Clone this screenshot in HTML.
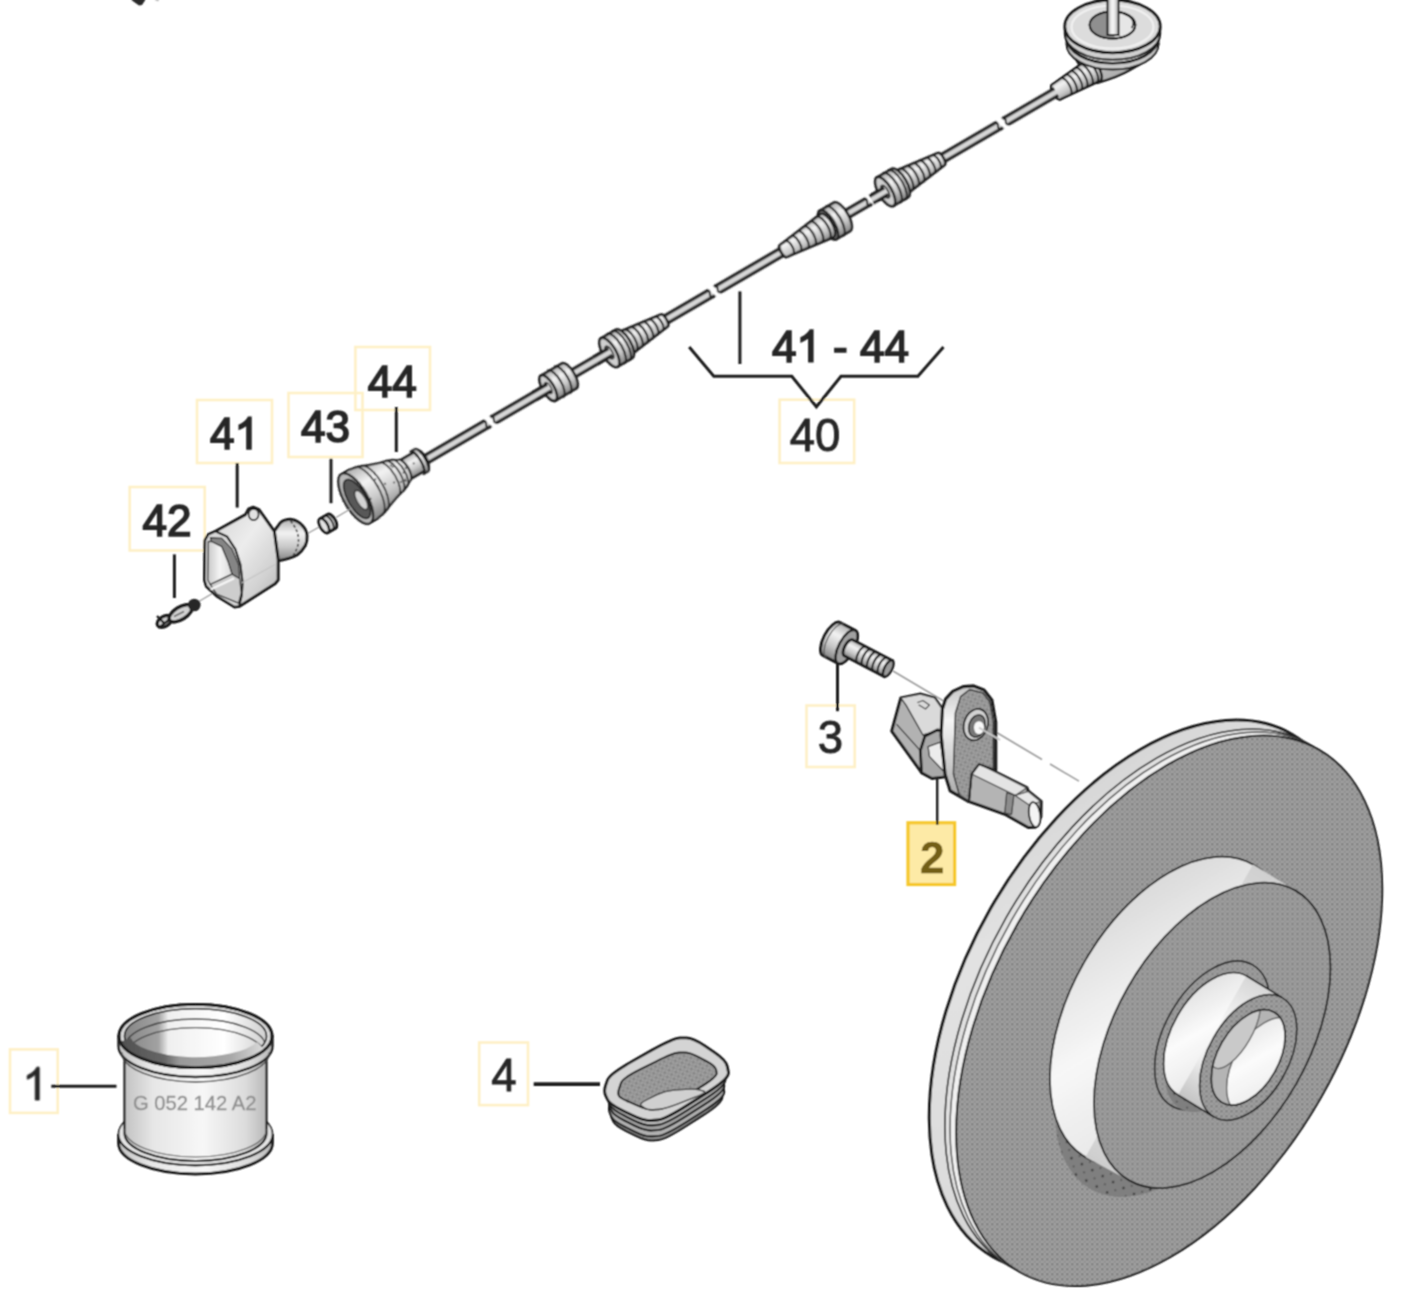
<!DOCTYPE html>
<html><head><meta charset="utf-8"><title>diagram</title>
<style>html,body{margin:0;padding:0;background:#fff}svg{display:block}text{font-family:"Liberation Sans",sans-serif}</style>
</head><body>
<svg width="1404" height="1308" viewBox="0 0 1404 1308">

<defs>
<filter id="bl" filterUnits="userSpaceOnUse" x="0" y="0" width="1404" height="1308"><feConvolveMatrix order="3" kernelMatrix="1 2 1 2 4 2 1 2 1" divisor="16" edgeMode="duplicate" preserveAlpha="false"/></filter>
<pattern id="dots" width="5" height="5" patternUnits="userSpaceOnUse" patternTransform="rotate(60.2)">
 <rect width="5" height="5" fill="#a1a1a1"/>
 <rect x="0" y="0" width="2.5" height="2.5" fill="#828282"/>
 <rect x="2.5" y="2.5" width="2.5" height="2.5" fill="#939393"/>
</pattern>
<pattern id="dotsd" width="12" height="12" patternUnits="userSpaceOnUse">
 <rect width="12" height="12" fill="#7f7f7f"/>
 <circle cx="3" cy="3" r="1.3" fill="#3a3a3a"/>
 <circle cx="9" cy="9" r="1.1" fill="#555"/>
</pattern>
<linearGradient id="hat" x1="0" y1="0" x2="1" y2="0">
 <stop offset="0" stop-color="#cfcfcf"/><stop offset="0.35" stop-color="#f4f4f4"/><stop offset="0.6" stop-color="#e2e2e2"/><stop offset="1" stop-color="#c4c4c4"/>
</linearGradient>
<linearGradient id="cyl" x1="0" y1="0" x2="0" y2="1">
 <stop offset="0" stop-color="#b0b0b0"/><stop offset="0.33" stop-color="#f2f2f2"/><stop offset="0.66" stop-color="#c8c8c8"/><stop offset="1" stop-color="#828282"/>
</linearGradient>
<linearGradient id="cylh" x1="0" y1="0" x2="1" y2="0">
 <stop offset="0" stop-color="#c9c9c9"/><stop offset="0.3" stop-color="#f0f0f0"/><stop offset="0.55" stop-color="#fafafa"/><stop offset="1" stop-color="#cdcdcd"/>
</linearGradient>
</defs>

<rect width="1404" height="1308" fill="#fff"/>
<g filter="url(#bl)">
<defs><linearGradient id="hubg" gradientUnits="userSpaceOnUse" x1="1085" y1="1158" x2="1254" y2="863"><stop offset="0" stop-color="#cdcdcd"/><stop offset="0.25" stop-color="#e9e9e9"/><stop offset="0.5" stop-color="#f7f7f7"/><stop offset="0.75" stop-color="#e3e3e3"/><stop offset="1" stop-color="#cfcfcf"/></linearGradient><linearGradient id="bossg" gradientUnits="userSpaceOnUse" x1="1174" y1="1092" x2="1244" y2="970"><stop offset="0" stop-color="#c4c4c4"/><stop offset="0.3" stop-color="#eeeeee"/><stop offset="0.55" stop-color="#fbfbfb"/><stop offset="1" stop-color="#d4d4d4"/></linearGradient><linearGradient id="rimg" gradientUnits="userSpaceOnUse" x1="1020" y1="1271" x2="1318" y2="750"><stop offset="0" stop-color="#c2c2c2"/><stop offset="0.4" stop-color="#dcdcdc"/><stop offset="0.7" stop-color="#e2e2e2"/><stop offset="1" stop-color="#cccccc"/></linearGradient></defs>
<ellipse cx="1142.3" cy="995.4" rx="301.0" ry="174.8" transform="rotate(-60.2 1142.3 995.4)" fill="url(#rimg)" stroke="#1e1e1e" stroke-width="3" />
<ellipse cx="1157.9" cy="1004.3" rx="301.0" ry="174.8" transform="rotate(-60.2 1157.9 1004.3)" fill="#e0e0e0" stroke="#1e1e1e" stroke-width="1.6" />
<ellipse cx="1163.1" cy="1007.3" rx="301.0" ry="174.8" transform="rotate(-60.2 1163.1 1007.3)" fill="#f0f0f0" stroke="#444" stroke-width="1.4" />
<ellipse cx="1169.2" cy="1010.8" rx="301.0" ry="174.8" transform="rotate(-60.2 1169.2 1010.8)" fill="url(#dots)" stroke="#1e1e1e" stroke-width="2" />
<ellipse cx="1174.2" cy="1042.8" rx="168.6" ry="97.9" transform="rotate(-60.2 1174.2 1042.8)" fill="url(#dotsd)" stroke="none" stroke-width="0" />
<ellipse cx="1169.2" cy="1010.8" rx="168.6" ry="97.9" transform="rotate(-60.2 1169.2 1010.8)" fill="url(#hubg)" stroke="#1e1e1e" stroke-width="1.8" />
<polygon points="1253.0,864.5 1085.4,1157.1 1129.1,1180.4 1295.2,890.4" fill="url(#hubg)" stroke="none"/>
<ellipse cx="1212.2" cy="1035.4" rx="167.1" ry="97.0" transform="rotate(-60.2 1212.2 1035.4)" fill="url(#dots)" stroke="#1e1e1e" stroke-width="1.8" />
<ellipse cx="1212.2" cy="1035.4" rx="81.3" ry="47.2" transform="rotate(-60.2 1212.2 1035.4)" fill="url(#dots)" stroke="#1e1e1e" stroke-width="1.6" />
<ellipse cx="1215.2" cy="1047.4" rx="70.7" ry="41.1" transform="rotate(-60.2 1215.2 1047.4)" fill="url(#dotsd)" stroke="none" stroke-width="0" />
<ellipse cx="1212.2" cy="1035.4" rx="68.6" ry="39.9" transform="rotate(-60.2 1212.2 1035.4)" fill="url(#bossg)" stroke="#1e1e1e" stroke-width="1.6" />
<polygon points="1246.3,975.8 1178.0,1095.0 1214.0,1117.0 1282.3,997.8" fill="url(#bossg)" stroke="none"/>
<line x1="1178.0" y1="1095.0" x2="1214.0" y2="1117.0" stroke="#1e1e1e" stroke-width="1.6"/>
<line x1="1246.3" y1="975.8" x2="1282.3" y2="997.8" stroke="#1e1e1e" stroke-width="1.6"/>
<ellipse cx="1248.2" cy="1057.4" rx="68.6" ry="39.9" transform="rotate(-60.2 1248.2 1057.4)" fill="url(#dots)" stroke="#1e1e1e" stroke-width="1.6" />
<clipPath id="holec"><ellipse cx="1248.2" cy="1057.4" rx="52.1" ry="30.2" transform="rotate(-60.2 1248.2 1057.4)"/></clipPath>
<ellipse cx="1248.2" cy="1057.4" rx="52.1" ry="30.2" transform="rotate(-60.2 1248.2 1057.4)" fill="url(#bossg)" stroke="#1e1e1e" stroke-width="1.6" />
<g clip-path="url(#holec)">
<ellipse cx="1248.2" cy="1057.4" rx="52.1" ry="30.2" transform="rotate(-60.2 1248.2 1057.4)" fill="#b4b4b4" stroke="none" stroke-width="0" />
<ellipse cx="1264.2" cy="1066.4" rx="53.1" ry="30.8" transform="rotate(-60.2 1264.2 1066.4)" fill="url(#bossg)" stroke="#555" stroke-width="1.3" />
<ellipse cx="1235.2" cy="1031.4" rx="41.7" ry="16.6" transform="rotate(-60.2 1235.2 1031.4)" fill="#c9c9c9" stroke="#555" stroke-width="1.2" />
</g>
<ellipse cx="1248.2" cy="1057.4" rx="52.1" ry="30.2" transform="rotate(-60.2 1248.2 1057.4)" fill="none" stroke="#1e1e1e" stroke-width="1.6" /><rect x="129.7" y="487" width="75" height="63.5" fill="none" stroke="#fef0c6" stroke-width="2.6"/><text x="142.54" y="535.5" font-size="44" fill="#262626" stroke="#262626" stroke-width="1.7">4</text><text x="167.00" y="535.5" font-size="44" fill="#262626" stroke="#262626" stroke-width="1.7">2</text>
<rect x="197" y="400" width="75" height="63" fill="none" stroke="#fef0c6" stroke-width="2.6"/><text x="210.04" y="449" font-size="44" fill="#262626" stroke="#262626" stroke-width="1.7">4</text><path transform="translate(234.50 449) scale(44)" d="M0.3726,0 L0.2847,0 L0.2847,-0.56 Q0.2529,-0.5298 0.2014,-0.4995 Q0.15,-0.469 0.1089,-0.454 L0.1089,-0.539 Q0.1826,-0.5737 0.2378,-0.623 Q0.293,-0.6724 0.316,-0.71875 L0.3726,-0.71875 Z" fill="#262626" stroke="#262626" stroke-width="0.0386"/>
<rect x="288.5" y="393" width="74" height="64" fill="none" stroke="#fef0c6" stroke-width="2.6"/><text x="301.04" y="442" font-size="44" fill="#262626" stroke="#262626" stroke-width="1.7">4</text><text x="325.50" y="442" font-size="44" fill="#262626" stroke="#262626" stroke-width="1.7">3</text>
<rect x="355.4" y="347" width="74.6" height="63" fill="none" stroke="#fef0c6" stroke-width="2.6"/><text x="367.84" y="396.6" font-size="44" fill="#262626" stroke="#262626" stroke-width="1.7">4</text><text x="392.30" y="396.6" font-size="44" fill="#262626" stroke="#262626" stroke-width="1.7">4</text>
<rect x="779.6" y="399.7" width="74.6" height="63.3" fill="none" stroke="#fef0c6" stroke-width="2.6"/><text x="789.70" y="450.6" font-size="45.5" fill="#262626" stroke="#262626" stroke-width="0.85">4</text><text x="815.00" y="450.6" font-size="45.5" fill="#262626" stroke="#262626" stroke-width="0.85">0</text>
<rect x="806.5" y="705.5" width="48.2" height="61.5" fill="none" stroke="#fef0c6" stroke-width="2.6"/><text x="817.75" y="752.8" font-size="45.5" fill="#262626" stroke="#262626" stroke-width="0.85">3</text>
<rect x="908" y="822.8" width="46.6" height="61.7" fill="#fdeaa6" stroke="#f6c72c" stroke-width="3.2"/><text x="932.2" y="873" font-size="44" font-weight="bold" fill="#735e12" stroke="#735e12" stroke-width="0.4" text-anchor="middle">2</text>
<rect x="10" y="1049.4" width="47.7" height="63.5" fill="none" stroke="#fef0c6" stroke-width="2.6"/><path transform="translate(22.35 1100) scale(45.5)" d="M0.3726,0 L0.2847,0 L0.2847,-0.56 Q0.2529,-0.5298 0.2014,-0.4995 Q0.15,-0.469 0.1089,-0.454 L0.1089,-0.539 Q0.1826,-0.5737 0.2378,-0.623 Q0.293,-0.6724 0.316,-0.71875 L0.3726,-0.71875 Z" fill="#262626" stroke="#262626" stroke-width="0.0187"/>
<rect x="479.2" y="1042.5" width="48.8" height="62.6" fill="none" stroke="#fef0c6" stroke-width="2.6"/><text x="491.15" y="1091.3" font-size="45.5" fill="#262626" stroke="#262626" stroke-width="0.85">4</text>
<text x="771.91" y="361.6" font-size="44" fill="#262626" stroke="#262626" stroke-width="1.7">4</text><path transform="translate(796.38 361.6) scale(44)" d="M0.3726,0 L0.2847,0 L0.2847,-0.56 Q0.2529,-0.5298 0.2014,-0.4995 Q0.15,-0.469 0.1089,-0.454 L0.1089,-0.539 Q0.1826,-0.5737 0.2378,-0.623 Q0.293,-0.6724 0.316,-0.71875 L0.3726,-0.71875 Z" fill="#262626" stroke="#262626" stroke-width="0.0386"/><text x="833.07" y="361.6" font-size="44" fill="#262626" stroke="#262626" stroke-width="1.7">-</text><text x="859.96" y="361.6" font-size="44" fill="#262626" stroke="#262626" stroke-width="1.7">4</text><text x="884.42" y="361.6" font-size="44" fill="#262626" stroke="#262626" stroke-width="1.7">4</text>
<polyline points="689.2,347 713.8,376.2 791.8,376.2 816.4,406.8 841,376.2 917.9,376.2 943.5,347" fill="none" stroke="#1e1e1e" stroke-width="3" stroke-linejoin="miter"/>
<line x1="739.9" y1="291.4" x2="739.9" y2="364" stroke="#1e1e1e" stroke-width="3"/>
<line x1="174.4" y1="554.4" x2="174.4" y2="598" stroke="#1e1e1e" stroke-width="3"/>
<line x1="237.2" y1="463" x2="237.2" y2="507.6" stroke="#1e1e1e" stroke-width="3"/>
<line x1="331" y1="458.7" x2="331" y2="503.2" stroke="#1e1e1e" stroke-width="3"/>
<line x1="396.3" y1="407" x2="396.3" y2="452" stroke="#1e1e1e" stroke-width="3"/>
<line x1="837.5" y1="660.8" x2="837.5" y2="711.2" stroke="#1e1e1e" stroke-width="3"/>
<line x1="937.2" y1="776.6" x2="937.2" y2="824.8" stroke="#1e1e1e" stroke-width="2.4"/>
<line x1="51.3" y1="1086.2" x2="116.5" y2="1086.2" stroke="#1e1e1e" stroke-width="3"/>
<line x1="533.7" y1="1084.1" x2="600" y2="1084.1" stroke="#1e1e1e" stroke-width="3.6"/><linearGradient id="elb" x1="0" y1="0" x2="1" y2="1"><stop offset="0" stop-color="#d6d6d6"/><stop offset="0.6" stop-color="#b4b4b4"/><stop offset="1" stop-color="#8e8e8e"/></linearGradient>
<path d="M1068,46 L1080,66 L1097,83 Q1118,77 1130,70 Q1150,60 1158.5,44 Z" fill="url(#elb)" stroke="#1e1e1e" stroke-width="2.4" stroke-linejoin="round"/>
<g transform="translate(425.6 459.6) rotate(-30.24)">
<path d="M730.0,-8.5 L774.0,-12.5 A5.0,12.5 0 0 1 774.0,12.5 L730.0,8.5 A3.4,8.5 0 0 1 730.0,-8.5 Z" fill="url(#cyl)" stroke="#1e1e1e" stroke-width="2.4" stroke-linejoin="round"/>
<path d="M741.0,-9.5 A3.8,9.5 0 0 1 741.0,9.5" fill="none" stroke="#1e1e1e" stroke-width="1.9"/>
<path d="M746.8,-10.0 A4.0,10.0 0 0 1 746.8,10.0" fill="none" stroke="#1e1e1e" stroke-width="1.9"/>
<path d="M752.6,-10.6 A4.2,10.6 0 0 1 752.6,10.6" fill="none" stroke="#1e1e1e" stroke-width="1.9"/>
<path d="M758.4,-11.1 A4.4,11.1 0 0 1 758.4,11.1" fill="none" stroke="#1e1e1e" stroke-width="1.9"/>
<path d="M764.2,-11.6 A4.6,11.6 0 0 1 764.2,11.6" fill="none" stroke="#1e1e1e" stroke-width="1.9"/>
<path d="M770.0,-12.1 A4.9,12.1 0 0 1 770.0,12.1" fill="none" stroke="#1e1e1e" stroke-width="1.9"/>
<path d="M730,-8.5 A3.4,8.5 0 0 0 730,8.5" fill="#cfcfcf" stroke="#1e1e1e" stroke-width="2.2"/>
</g>
<path d="M1066.5,38 A46,25.5 0 0 0 1158.5,38 L1158.5,44 A46,25.5 0 0 1 1066.5,44 Z" fill="#c9c9c9" stroke="#1e1e1e" stroke-width="2"/>
<path d="M1067.5,33 A45,25 0 0 0 1157.5,33 L1157.5,38 A45,25 0 0 1 1067.5,38 Z" fill="#e2e2e2" stroke="#1e1e1e" stroke-width="2"/>
<path d="M1064.8,26.4 A47.7,26.4 0 0 0 1160.2,26.4 L1160.2,33.4 A47.7,26.4 0 0 1 1064.8,33.4 Z" fill="#cfcfcf" stroke="#1e1e1e" stroke-width="2"/>
<ellipse cx="1112.5" cy="26.4" rx="47.7" ry="26.4" fill="#dcdcdc" stroke="#1e1e1e" stroke-width="2.8"/>
<ellipse cx="1112.5" cy="27" rx="41" ry="21.5" fill="none" stroke="#f0f0f0" stroke-width="2.2"/>
<ellipse cx="1112.5" cy="25" rx="22.8" ry="13.5" fill="#e6e6e6" stroke="#1e1e1e" stroke-width="2"/>
<path d="M1089.7,25 A22.8,13.5 0 0 1 1114.5,11.6 L1114.5,38.4 A22.8,13.5 0 0 1 1089.7,25 Z" fill="#8f8f8f"/>
<path d="M1124.5,14 A19,11 0 0 1 1131.5,28" fill="none" stroke="#1e1e1e" stroke-width="1.6"/>
<ellipse cx="1112.5" cy="25" rx="22.8" ry="13.5" fill="none" stroke="#1e1e1e" stroke-width="2"/>
<rect x="1107.5" y="-3" width="11" height="38" fill="#d0d0d0" stroke="#1e1e1e" stroke-width="2"/>
<rect x="1110.8" y="-3" width="4" height="37" fill="#f1f1f1"/><g transform="translate(425.6 459.6) rotate(-30.24)">
<rect x="-2" y="-4" width="732" height="8" fill="#d6d6d6"/>
<line x1="-2" y1="-4" x2="730" y2="-4" stroke="#1e1e1e" stroke-width="3.1"/>
<line x1="-2" y1="4" x2="730" y2="4" stroke="#1e1e1e" stroke-width="3.1"/>
<polygon points="70.0,-8 76.0,-8 81.0,8 75.0,8" fill="#fff"/>
<path d="M69.0,-5 q3,2 1,5 t2,5" fill="none" stroke="#1e1e1e" stroke-width="1.8"/>
<path d="M78.0,-5 q3,2 1,5 t2,5" fill="none" stroke="#1e1e1e" stroke-width="1.8"/>
<polygon points="329.0,-8 335.0,-8 340.0,8 334.0,8" fill="#fff"/>
<path d="M328.0,-5 q3,2 1,5 t2,5" fill="none" stroke="#1e1e1e" stroke-width="1.8"/>
<path d="M337.0,-5 q3,2 1,5 t2,5" fill="none" stroke="#1e1e1e" stroke-width="1.8"/>
<polygon points="511.0,-8 517.0,-8 522.0,8 516.0,8" fill="#fff"/>
<path d="M510.0,-5 q3,2 1,5 t2,5" fill="none" stroke="#1e1e1e" stroke-width="1.8"/>
<path d="M519.0,-5 q3,2 1,5 t2,5" fill="none" stroke="#1e1e1e" stroke-width="1.8"/>
<polygon points="662.5,-8 668.5,-8 673.5,8 667.5,8" fill="#fff"/>
<path d="M661.5,-5 q3,2 1,5 t2,5" fill="none" stroke="#1e1e1e" stroke-width="1.8"/>
<path d="M670.5,-5 q3,2 1,5 t2,5" fill="none" stroke="#1e1e1e" stroke-width="1.8"/>
<path d="M142.0,-14.5 L166.0,-14.5 A5.8,14.5 0 0 1 166.0,14.5 L142.0,14.5 A5.8,14.5 0 0 1 142.0,-14.5 Z" fill="url(#cyl)" stroke="#1e1e1e" stroke-width="2.4" stroke-linejoin="round"/>
<path d="M150.0,-15.5 A6.2,15.5 0 0 1 150.0,15.5" fill="none" stroke="#1e1e1e" stroke-width="1.9"/>
<path d="M158.0,-15.5 A6.2,15.5 0 0 1 158.0,15.5" fill="none" stroke="#1e1e1e" stroke-width="1.9"/>
<ellipse cx="142.0" cy="0.0" rx="5.8" ry="14.5" fill="#cfcfcf" stroke="#1e1e1e" stroke-width="2.4"/>
<ellipse cx="142.0" cy="0.0" rx="2.4" ry="6.0" fill="#8a8a8a" stroke="#1e1e1e" stroke-width="1.4"/>
<path d="M230.7,-13.0 L276.0,-7.0 A2.8,7.0 0 0 1 276.0,7.0 L230.7,13.0 A5.2,13.0 0 0 1 230.7,-13.0 Z" fill="url(#cyl)" stroke="#1e1e1e" stroke-width="2.4" stroke-linejoin="round"/>
<path d="M236.7,-12.2 A4.9,12.2 0 0 1 236.7,12.2" fill="none" stroke="#1e1e1e" stroke-width="1.9"/>
<path d="M243.4,-11.3 A4.5,11.3 0 0 1 243.4,11.3" fill="none" stroke="#1e1e1e" stroke-width="1.9"/>
<path d="M250.0,-10.4 A4.2,10.4 0 0 1 250.0,10.4" fill="none" stroke="#1e1e1e" stroke-width="1.9"/>
<path d="M256.7,-9.6 A3.8,9.6 0 0 1 256.7,9.6" fill="none" stroke="#1e1e1e" stroke-width="1.9"/>
<path d="M263.3,-8.7 A3.5,8.7 0 0 1 263.3,8.7" fill="none" stroke="#1e1e1e" stroke-width="1.9"/>
<path d="M270.0,-7.8 A3.1,7.8 0 0 1 270.0,7.8" fill="none" stroke="#1e1e1e" stroke-width="1.9"/>
<path d="M212.7,-16.5 L229.7,-16.5 A6.6,16.5 0 0 1 229.7,16.5 L212.7,16.5 A6.6,16.5 0 0 1 212.7,-16.5 Z" fill="url(#cyl)" stroke="#1e1e1e" stroke-width="2.4" stroke-linejoin="round"/>
<path d="M219.7,-17.3 A6.9,17.3 0 0 1 219.7,17.3" fill="none" stroke="#1e1e1e" stroke-width="1.9"/>
<path d="M225.7,-17.0 A6.8,17.0 0 0 1 225.7,17.0" fill="none" stroke="#1e1e1e" stroke-width="1.9"/>
<ellipse cx="212.7" cy="0.0" rx="6.6" ry="16.5" fill="#cfcfcf" stroke="#1e1e1e" stroke-width="2.4"/>
<ellipse cx="212.7" cy="0.0" rx="2.8" ry="7.0" fill="#8a8a8a" stroke="#1e1e1e" stroke-width="1.4"/>
<path d="M465.9,-16.5 L481.9,-16.5 A6.6,16.5 0 0 1 481.9,16.5 L465.9,16.5 A6.6,16.5 0 0 1 465.9,-16.5 Z" fill="url(#cyl)" stroke="#1e1e1e" stroke-width="2.4" stroke-linejoin="round"/>
<path d="M472.9,-17.3 A6.9,17.3 0 0 1 472.9,17.3" fill="none" stroke="#1e1e1e" stroke-width="1.9"/>
<ellipse cx="465.9" cy="0.0" rx="6.6" ry="16.5" fill="#c4c4c4" stroke="#1e1e1e" stroke-width="2.4"/>
<path d="M414.4,-7.0 L464.9,-13.5 A5.4,13.5 0 0 1 464.9,13.5 L414.4,7.0 A2.8,7.0 0 0 1 414.4,-7.0 Z" fill="url(#cyl)" stroke="#1e1e1e" stroke-width="2.4" stroke-linejoin="round"/>
<path d="M421.0,-7.8 A3.1,7.8 0 0 1 421.0,7.8" fill="none" stroke="#1e1e1e" stroke-width="1.9"/>
<path d="M428.8,-8.9 A3.5,8.9 0 0 1 428.8,8.9" fill="none" stroke="#1e1e1e" stroke-width="1.9"/>
<path d="M436.6,-9.9 A3.9,9.9 0 0 1 436.6,9.9" fill="none" stroke="#1e1e1e" stroke-width="1.9"/>
<path d="M444.3,-10.9 A4.3,10.9 0 0 1 444.3,10.9" fill="none" stroke="#1e1e1e" stroke-width="1.9"/>
<path d="M452.1,-11.9 A4.7,11.9 0 0 1 452.1,11.9" fill="none" stroke="#1e1e1e" stroke-width="1.9"/>
<path d="M459.9,-12.9 A5.1,12.9 0 0 1 459.9,12.9" fill="none" stroke="#1e1e1e" stroke-width="1.9"/>
<path d="M414.4,-7 A2.8,7 0 0 0 414.4,7" fill="#cfcfcf" stroke="#1e1e1e" stroke-width="2.2"/>
<path d="M550.0,-13.0 L596.6,-7.0 A2.8,7.0 0 0 1 596.6,7.0 L550.0,13.0 A5.2,13.0 0 0 1 550.0,-13.0 Z" fill="url(#cyl)" stroke="#1e1e1e" stroke-width="2.4" stroke-linejoin="round"/>
<path d="M556.0,-12.2 A4.9,12.2 0 0 1 556.0,12.2" fill="none" stroke="#1e1e1e" stroke-width="1.9"/>
<path d="M563.0,-11.3 A4.5,11.3 0 0 1 563.0,11.3" fill="none" stroke="#1e1e1e" stroke-width="1.9"/>
<path d="M570.0,-10.4 A4.2,10.4 0 0 1 570.0,10.4" fill="none" stroke="#1e1e1e" stroke-width="1.9"/>
<path d="M577.0,-9.5 A3.8,9.5 0 0 1 577.0,9.5" fill="none" stroke="#1e1e1e" stroke-width="1.9"/>
<path d="M584.0,-8.6 A3.4,8.6 0 0 1 584.0,8.6" fill="none" stroke="#1e1e1e" stroke-width="1.9"/>
<path d="M591.0,-7.7 A3.1,7.7 0 0 1 591.0,7.7" fill="none" stroke="#1e1e1e" stroke-width="1.9"/>
<path d="M532.0,-16.5 L549.0,-16.5 A6.6,16.5 0 0 1 549.0,16.5 L532.0,16.5 A6.6,16.5 0 0 1 532.0,-16.5 Z" fill="url(#cyl)" stroke="#1e1e1e" stroke-width="2.4" stroke-linejoin="round"/>
<path d="M539.0,-17.3 A6.9,17.3 0 0 1 539.0,17.3" fill="none" stroke="#1e1e1e" stroke-width="1.9"/>
<path d="M545.0,-17.0 A6.8,17.0 0 0 1 545.0,17.0" fill="none" stroke="#1e1e1e" stroke-width="1.9"/>
<ellipse cx="532.0" cy="0.0" rx="6.6" ry="16.5" fill="#cfcfcf" stroke="#1e1e1e" stroke-width="2.4"/>
<ellipse cx="532.0" cy="0.0" rx="2.8" ry="7.0" fill="#8a8a8a" stroke="#1e1e1e" stroke-width="1.4"/>
<rect x="126" y="-4" width="18" height="8" fill="#d6d6d6"/>
<line x1="126" y1="-4" x2="143" y2="-4" stroke="#1e1e1e" stroke-width="3.1"/>
<line x1="126" y1="4" x2="143.5" y2="4" stroke="#1e1e1e" stroke-width="3.1"/>
<rect x="196.7" y="-4" width="18" height="8" fill="#d6d6d6"/>
<line x1="196.7" y1="-4" x2="213.7" y2="-4" stroke="#1e1e1e" stroke-width="3.1"/>
<line x1="196.7" y1="4" x2="214.2" y2="4" stroke="#1e1e1e" stroke-width="3.1"/>
<rect x="516" y="-4" width="18" height="8" fill="#d6d6d6"/>
<line x1="516" y1="-4" x2="533" y2="-4" stroke="#1e1e1e" stroke-width="3.1"/>
<line x1="516" y1="4" x2="533.5" y2="4" stroke="#1e1e1e" stroke-width="3.1"/>
<path d="M-24.0,-12.3 L-3.0,-12.3 A4.3,10.8 0 0 1 -3.0,9.3 L-24.0,9.3 A4.3,10.8 0 0 1 -24.0,-12.3 Z" fill="url(#cyl)" stroke="#1e1e1e" stroke-width="2.4" stroke-linejoin="round"/>
<path d="M-9,-14.5 L-4,-14.5 A4.2,13 0 0 1 -4,11.5 L-9,11.5 A4.2,13 0 0 0 -9,-14.5 Z" fill="url(#cyl)" stroke="#1e1e1e" stroke-width="2.2" stroke-linejoin="round"/>
<path d="M-9,-14.5 A4.2,13 0 0 1 -9,11.5" fill="none" stroke="#1e1e1e" stroke-width="1.4"/>
<path d="M-80,-30.0 L-72,-30.0 L-62,-28.0 L-52,-24.0 L-42,-20.5 L-34,-18.5 L-28,-16.0 L-24,-13.5 A4.8,12 0 0 1 -24,10.5 L-24,10.5 L-28,13.0 L-34,15.5 L-42,17.5 L-52,21.0 L-62,25.0 L-72,27.0 L-80,27.0 A11.4,28.5 0 0 1 -80,-30.0 Z" fill="url(#cyl)" stroke="#1e1e1e" stroke-width="2" stroke-linejoin="round"/>
<path d="M-66,-29.1 A11.0,27.6 0 0 1 -66,26.1" fill="none" stroke="#1e1e1e" stroke-width="1.4"/>
<path d="M-60,-27.3 A10.3,25.8 0 0 1 -60,24.3" fill="none" stroke="#1e1e1e" stroke-width="1.4"/>
<path d="M-42,-20.5 A7.6,19 0 0 1 -42,17.5" fill="none" stroke="#1e1e1e" stroke-width="1.4"/>
<path d="M-36,-19.0 A7.0,17.5 0 0 1 -36,16.0" fill="none" stroke="#1e1e1e" stroke-width="1.4"/>
<path d="M-30,-16.8 A6.1,15.3 0 0 1 -30,13.8" fill="none" stroke="#1e1e1e" stroke-width="1.4"/>
<ellipse cx="-80" cy="-1.5" rx="11.4" ry="28.5" fill="#b9b9b9" stroke="#1e1e1e" stroke-width="2.2"/>
<ellipse cx="-79" cy="-0.5" rx="8.8" ry="22" fill="#585858" stroke="#1e1e1e" stroke-width="1.6"/>
<ellipse cx="-76" cy="2.5" rx="4.4" ry="11" fill="#d4d4d4" stroke="#333" stroke-width="1.3"/>
<circle cx="-54.7" cy="-0.9" r="0.9" fill="#333"/>
<circle cx="-47.3" cy="0.5" r="0.9" fill="#333"/>
<circle cx="-33.0" cy="-12.4" r="0.9" fill="#333"/>
<circle cx="-67.3" cy="6.1" r="0.9" fill="#333"/>
<circle cx="-53.5" cy="-8.4" r="0.9" fill="#333"/>
<circle cx="-12.2" cy="-2.7" r="0.9" fill="#333"/>
<circle cx="-21.2" cy="-2.6" r="0.9" fill="#333"/>
<circle cx="-32.2" cy="-10.4" r="0.9" fill="#333"/>
<circle cx="-32.4" cy="6.8" r="0.9" fill="#333"/>
<circle cx="-38.7" cy="3.8" r="0.9" fill="#333"/>
<circle cx="-30.4" cy="-12.5" r="0.9" fill="#333"/>
<circle cx="-25.5" cy="0.2" r="0.9" fill="#333"/>
<circle cx="-51.1" cy="-13.3" r="0.9" fill="#333"/>
<circle cx="-19.5" cy="-2.7" r="0.9" fill="#333"/>
<circle cx="-27.7" cy="7.1" r="0.9" fill="#333"/>
<circle cx="-28.0" cy="8.1" r="0.9" fill="#333"/>
</g><line x1="198" y1="602" x2="214" y2="592.5" stroke="#9c9c9c" stroke-width="1.4"/>
<line x1="305" y1="535" x2="320" y2="526.5" stroke="#9c9c9c" stroke-width="1.4"/>
<line x1="336" y1="517.5" x2="352" y2="508" stroke="#9c9c9c" stroke-width="1.4"/>
<path d="M274,531.5 L280.3,522.8 Q285,519 291.7,519.4 Q298,520.5 301.9,525.1 Q306.6,530 307,535.3 Q307.4,541 305.3,545.6 Q302,551.5 297.4,554.7 Q290,559 277,561 Z" fill="url(#cyl)" stroke="#1e1e1e" stroke-width="3" stroke-linejoin="round"/>
<path d="M290.5,521 Q299,531 298.5,541 Q298,549 292.5,556.5" fill="none" stroke="#3a3a3a" stroke-width="1.5" stroke-dasharray="3 2"/>
<linearGradient id="c41" x1="0" y1="0" x2="1" y2="1"><stop offset="0" stop-color="#cfcfcf"/><stop offset="0.45" stop-color="#ececec"/><stop offset="0.75" stop-color="#d2d2d2"/><stop offset="1" stop-color="#b2b2b2"/></linearGradient>
<polygon points="205.1,540.3 208.3,534.5 215.4,531.3 245.5,514.6 248.7,508.8 253.2,507.2 259.0,509.7 274.4,531.3 278.2,559.5 278.2,580.0 275.0,583.8 239.7,606.3 234.6,606.9 216.7,596.0 206.4,586.4 204.5,580.0" fill="url(#c41)" stroke="#1e1e1e" stroke-width="3" stroke-linejoin="round" />
<ellipse cx="253.6" cy="514.5" rx="5" ry="5.6" fill="#e2e2e2" stroke="#1e1e1e" stroke-width="1.6"/>
<polygon points="205.1,540.3 208.3,534.5 215.4,531.3 226.9,536.4 235.3,549.2 240.4,564.6 242.6,582.6 241.7,595.4 239.1,606.3 234.6,606.9 216.7,596.0 206.4,586.4 204.5,580.0" fill="#d8d8d8" stroke="#1e1e1e" stroke-width="2.2" stroke-linejoin="round" />
<polygon points="210.3,537.7 221.8,538.3 232.1,549.2 238.5,564.6 239.7,578.7 232.1,574.2 228.2,562.1 221.8,546.7 211.5,541.5" fill="#858585" stroke="#333" stroke-width="1.2" stroke-linejoin="round" />
<linearGradient id="c41i" x1="0" y1="0" x2="1" y2="0"><stop offset="0" stop-color="#c8c8c8"/><stop offset="0.5" stop-color="#f4f4f4"/><stop offset="1" stop-color="#dadada"/></linearGradient>
<polygon points="208.3,541.5 211.5,541.5 221.8,546.7 228.2,562.1 232.1,574.2 210.3,584.5 207.7,580.0" fill="url(#c41i)" stroke="#333" stroke-width="1.3" stroke-linejoin="round" />
<polygon points="210.3,584.5 232.1,574.2 239.7,578.7 241.3,592.8 238.5,603.1 216.7,594.1" fill="#cdcdcd" stroke="#333" stroke-width="1.3" stroke-linejoin="round" />
<polyline points="211.5,589.0 233.3,578.7" fill="none" stroke="#f6f6f6" stroke-width="2.2" stroke-linejoin="round" stroke-linecap="round"/>
<polyline points="242.6,582.6 275.0,564.6" fill="none" stroke="#c4c4c4" stroke-width="1.2" stroke-linejoin="round" stroke-linecap="round"/>
<ellipse cx="164.5" cy="621.3" rx="8" ry="5" transform="rotate(-32 164.5 621.3)" fill="#cfcfcf" stroke="#1e1e1e" stroke-width="3.2"/>
<path d="M157,616 L165,624 M160,627 L170,619" stroke="#1e1e1e" stroke-width="2.4" fill="none"/>
<ellipse cx="180.6" cy="613.3" rx="13" ry="6.2" transform="rotate(-32 180.6 613.3)" fill="#d2d2d2" stroke="#1e1e1e" stroke-width="3.4"/>
<path d="M174,616.5 L184,611.5" stroke="#666" stroke-width="1.4" fill="none"/>
<circle cx="194.3" cy="605" r="6.3" fill="#262626"/>
<g transform="translate(327.4 523.7) rotate(-30.24)">
<path d="M-4,-8 L5,-8 A3.6,8 0 0 1 5,8 L-4,8 A3.6,8 0 0 1 -4,-8 Z" fill="#cfcfcf" stroke="#1e1e1e" stroke-width="3"/>
<ellipse cx="-4" cy="0" rx="3.8" ry="8" fill="#e4e4e4" stroke="#1e1e1e" stroke-width="2.6"/>
<path d="M1.5,-8 A3.6,8 0 0 1 1.5,8" fill="none" stroke="#1e1e1e" stroke-width="1.8"/>
</g><path d="M893,671 L968,715.5 M984,725 L1042,759.5 M1050,764 L1079,781.2" stroke="#9c9c9c" stroke-width="1.5" fill="none"/>
<g transform="translate(831.5 639) rotate(27.5)">
<path d="M0,-18.6 L17,-18.6 A7.8,18.6 0 0 1 17,18.6 L0,18.6 A7.8,18.6 0 0 1 0,-18.6 Z" fill="url(#cyl)" stroke="#1e1e1e" stroke-width="3"/>
<path d="M4,-18.6 A7.8,18.6 0 0 0 4,18.6" fill="none" stroke="#555" stroke-width="1.2"/>
<ellipse cx="17" cy="0" rx="7.8" ry="18.6" fill="#a0a0a0" stroke="#1e1e1e" stroke-width="2.4"/>
<path d="M19,-9 L64,-9 L64,9 L19,9 A3.8,9 0 0 1 19,-9 Z" fill="url(#cyl)" stroke="#1e1e1e" stroke-width="2.8"/>
<path d="M34,-9 A3.8,9 0 0 0 34,9" fill="none" stroke="#1e1e1e" stroke-width="2"/>
<path d="M40,-9 A3.8,9 0 0 0 40,9" fill="none" stroke="#1e1e1e" stroke-width="2"/>
<path d="M46,-9 A3.8,9 0 0 0 46,9" fill="none" stroke="#1e1e1e" stroke-width="2"/>
<path d="M52,-9 A3.8,9 0 0 0 52,9" fill="none" stroke="#1e1e1e" stroke-width="2"/>
<path d="M58,-9 A3.8,9 0 0 0 58,9" fill="none" stroke="#1e1e1e" stroke-width="2"/>
<ellipse cx="64" cy="0" rx="3.8" ry="9" fill="#9c9c9c" stroke="#1e1e1e" stroke-width="2.4"/>
</g><polygon points="978.8,763.6 1026.9,787.6 1028.2,790.9 1041.2,801.3 1040.9,816.9 1035.3,827.3 1028.2,827.5 1004.8,814.3 968.4,801.3 971.0,774.0" fill="#b4b4b4" stroke="#1e1e1e" stroke-width="3" stroke-linejoin="round" />
<polygon points="978.8,763.8 1026.6,787.9 1015.2,795.4 971.6,774.0" fill="#e4e4e4" stroke="#444" stroke-width="1.2" stroke-linejoin="round" />
<polygon points="1006.7,792.8 1013.9,795.0 1011.5,814.5 1004.8,813.0" fill="#8c8c8c" stroke="#333" stroke-width="1.2" stroke-linejoin="round" />
<polygon points="1015.2,795.4 1028.2,791.5 1040.5,801.5 1029.5,805.2" fill="#e9e9e9" stroke="#444" stroke-width="1.2" stroke-linejoin="round" />
<ellipse cx="1034.6" cy="814.6" rx="5.6" ry="12.6" transform="rotate(-8 1034.6 814.6)" fill="#f4f4f4" stroke="#1e1e1e" stroke-width="1.8"/>
<polygon points="900.8,697.9 920.3,694.0 934.6,697.9 942.4,709.0 941.1,731.1 932.0,777.9 921.6,772.7 891.7,731.1" fill="#b2b2b2" stroke="#1e1e1e" stroke-width="3" stroke-linejoin="round" />
<polygon points="900.8,697.9 920.3,694.0 934.6,697.9 942.4,709.0 941.1,729.8 922.9,735.0 906.0,705.1" fill="#dadada" stroke="#333" stroke-width="1.4" stroke-linejoin="round" />
<polyline points="896.9,724.6 920.3,750.6" fill="none" stroke="#333" stroke-width="1.3" stroke-linejoin="round" stroke-linecap="round"/>
<polyline points="917.7,702.5 922.9,700.5 929.4,705.1 925.5,709.0 919.0,705.1" fill="none" stroke="#444" stroke-width="1.2" stroke-linejoin="round" stroke-linecap="round"/>
<polygon points="920.3,750.6 924.8,736.3 937.2,730.0 945.0,731.1 947.6,776.6 932.0,778.5 921.6,772.7" fill="#a8a8a8" stroke="#1e1e1e" stroke-width="2.8" stroke-linejoin="round" />
<polygon points="928.1,746.7 940.4,742.1 945.0,772.7 929.4,756.4" fill="#ececec" stroke="#333" stroke-width="1.3" stroke-linejoin="round" />
<linearGradient id="flg" x1="0" y1="0" x2="0" y2="1"><stop offset="0" stop-color="#c4c4c4"/><stop offset="0.3" stop-color="#f6f6f6"/><stop offset="0.6" stop-color="#d4d4d4"/><stop offset="1" stop-color="#a6a6a6"/></linearGradient>
<polygon points="942.4,709.0 945.6,699.2 952.8,691.4 963.2,686.6 973.6,685.9 984.0,690.1 991.8,699.9 995.7,722.0 995.7,770.1 978.8,763.6 971.0,774.0 968.4,801.3 958.0,795.4 950.2,790.9 945.0,774.0 941.1,735.0" fill="url(#flg)" stroke="#1e1e1e" stroke-width="3.2" stroke-linejoin="round" />
<polygon points="960.6,696.6 969.7,689.5 982.7,692.7 989.8,701.8 993.3,722.0 993.3,768.8 978.8,763.6 971.0,774.0 968.4,800.6 959.3,794.8 953.4,774.0 955.4,712.9" fill="url(#dots)" stroke="#333" stroke-width="1.4" stroke-linejoin="round" />
<ellipse cx="975.8" cy="724.6" rx="11.8" ry="16" transform="rotate(18 975.8 724.6)" fill="#d2d2d2" stroke="#1e1e1e" stroke-width="1.8"/>
<ellipse cx="977" cy="726" rx="8" ry="11.4" transform="rotate(18 977 726)" fill="#777" stroke="#1e1e1e" stroke-width="1.4"/>
<ellipse cx="979" cy="727.6" rx="5" ry="6.4" fill="#fafafa"/>
<line x1="979" y1="727.6" x2="1000" y2="740" stroke="#c9c9c9" stroke-width="2"/><linearGradient id="slv" x1="0" y1="0" x2="1" y2="0"><stop offset="0" stop-color="#c2c2c2"/><stop offset="0.2" stop-color="#e6e6e6"/><stop offset="0.55" stop-color="#f7f7f7"/><stop offset="0.85" stop-color="#dcdcdc"/><stop offset="1" stop-color="#b8b8b8"/></linearGradient>
<linearGradient id="slvi" x1="0" y1="0" x2="1" y2="0"><stop offset="0" stop-color="#9a9a9a"/><stop offset="0.35" stop-color="#d8d8d8"/><stop offset="0.6" stop-color="#f6f6f6"/><stop offset="1" stop-color="#c4c4c4"/></linearGradient>
<path d="M118.5,1134 A77,31 0 0 0 272.5,1134 L272.5,1143 A77,31 0 0 1 118.5,1143 Z" fill="url(#slv)" stroke="#1e1e1e" stroke-width="2.8"/>
<ellipse cx="195.5" cy="1134" rx="77" ry="31" fill="#e4e4e4" stroke="#1e1e1e" stroke-width="1.6"/>
<path d="M124.5,1040 L124.5,1133 A71,28 0 0 0 266.5,1133 L266.5,1040 Z" fill="url(#slv)" stroke="#1e1e1e" stroke-width="2.2"/>
<path d="M124.5,1129 A71,28 0 0 0 266.5,1129" fill="none" stroke="#555" stroke-width="1.2"/>
<path d="M118.5,1035 A77,31 0 0 0 272.5,1035 L272.5,1046 A77,31 0 0 1 118.5,1046 Z" fill="url(#slv)" stroke="#1e1e1e" stroke-width="2.4"/>
<path d="M121.5,1052 A74,30 0 0 0 269.5,1052" fill="none" stroke="#444" stroke-width="1.4"/>
<linearGradient id="slvw" gradientUnits="userSpaceOnUse" x1="124" y1="0" x2="267" y2="0"><stop offset="0" stop-color="#858585"/><stop offset="0.24" stop-color="#a2a2a2"/><stop offset="0.31" stop-color="#efefef"/><stop offset="0.7" stop-color="#ffffff"/><stop offset="1" stop-color="#cfcfcf"/></linearGradient>
<linearGradient id="slvb" gradientUnits="userSpaceOnUse" x1="120" y1="0" x2="268" y2="0"><stop offset="0" stop-color="#505050"/><stop offset="0.3" stop-color="#666"/><stop offset="0.4" stop-color="#989898"/><stop offset="0.75" stop-color="#a8a8a8"/><stop offset="0.95" stop-color="#d6d6d6"/></linearGradient>
<clipPath id="slo"><ellipse cx="195.5" cy="1036" rx="76" ry="31.5"/></clipPath>
<ellipse cx="195.5" cy="1036" rx="76.5" ry="31.7" fill="#d9d9d9" stroke="#1e1e1e" stroke-width="2.8"/>
<clipPath id="slc"><ellipse cx="195.5" cy="1036.2" rx="71" ry="27.4"/></clipPath>
<ellipse cx="195.5" cy="1036.2" rx="71" ry="27.4" fill="url(#slvw)" stroke="#1e1e1e" stroke-width="1.6"/>
<g clip-path="url(#slc)">
<ellipse cx="195.5" cy="1046.5" rx="70" ry="27.4" fill="none" stroke="#3c3c3c" stroke-width="1.5"/>
<ellipse cx="195.5" cy="1055" rx="69" ry="27.4" fill="none" stroke="#4a4a4a" stroke-width="1.4"/>
</g>
<g clip-path="url(#slo)"><path d="M125.2,1040.0 A71,27 0 0 0 261.3,1046.3" fill="none" stroke="url(#slvb)" stroke-width="12"/></g>
<ellipse cx="195.5" cy="1036" rx="76.5" ry="31.7" fill="none" stroke="#1e1e1e" stroke-width="2.8"/>
<text x="194.7" y="1109.7" font-size="20.2" fill="#909090" stroke="#909090" stroke-width="0.3" text-anchor="middle">G 052 142 A2</text><linearGradient id="plg" x1="0" y1="0" x2="1" y2="0"><stop offset="0" stop-color="#9d9d9d"/><stop offset="0.4" stop-color="#c9c9c9"/><stop offset="1" stop-color="#9a9a9a"/></linearGradient>
<path d="M611.8,1118.0 Q609.9,1114.0 611.8,1108.6 L613.4,1104.0 Q615.3,1098.6 635.5,1087.1 L652.8,1077.3 Q673.0,1065.9 679.0,1065.9 L684.2,1065.9 Q690.3,1065.9 700.7,1072.9 L709.7,1079.0 Q720.1,1086.1 721.3,1091.8 L722.2,1096.7 Q723.4,1102.4 703.0,1115.3 L685.6,1126.4 Q665.3,1139.3 658.6,1139.9 L652.8,1140.3 Q646.1,1140.9 635.3,1135.5 L626.1,1130.9 Q615.3,1125.5 613.4,1121.5 Z" fill="#9a9a9a" stroke="#1e1e1e" stroke-width="2.2"/>
<path d="M610.0,1113.4 Q608.0,1109.2 610.0,1103.6 L611.6,1098.8 Q613.6,1093.3 634.4,1081.5 L652.3,1071.3 Q673.2,1059.5 679.5,1059.5 L684.8,1059.5 Q691.1,1059.5 701.9,1066.8 L711.1,1073.1 Q721.9,1080.4 723.1,1086.3 L724.1,1091.3 Q725.3,1097.3 704.3,1110.6 L686.3,1122.1 Q665.2,1135.4 658.3,1136.0 L652.3,1136.4 Q645.4,1137.0 634.2,1131.4 L624.7,1126.7 Q613.6,1121.1 611.6,1116.9 Z" fill="#b1b1b1" stroke="#1e1e1e" stroke-width="2.2"/>
<path d="M610.0,1107.4 Q608.0,1103.2 610.0,1097.6 L611.6,1092.9 Q613.6,1087.3 634.4,1075.5 L652.3,1065.3 Q673.2,1053.5 679.5,1053.5 L684.8,1053.5 Q691.1,1053.5 701.9,1060.8 L711.1,1067.1 Q721.9,1074.4 723.1,1080.3 L724.1,1085.4 Q725.3,1091.3 704.3,1104.6 L686.3,1116.1 Q665.2,1129.4 658.3,1130.0 L652.3,1130.5 Q645.4,1131.0 634.2,1125.5 L624.7,1120.7 Q613.6,1115.1 611.6,1110.9 Z" fill="#a2a2a2" stroke="#1e1e1e" stroke-width="2.2"/>
<path d="M608.7,1101.7 Q606.8,1097.4 608.7,1091.8 L610.4,1086.9 Q612.4,1081.2 633.8,1069.1 L652.0,1058.8 Q673.3,1046.7 679.7,1046.7 L685.2,1046.7 Q691.6,1046.7 702.6,1054.2 L712.1,1060.6 Q723.1,1068.0 724.3,1074.1 L725.3,1079.2 Q726.5,1085.3 705.1,1098.9 L686.7,1110.6 Q665.2,1124.2 658.1,1124.8 L652.0,1125.3 Q644.9,1125.9 633.5,1120.2 L623.8,1115.3 Q612.4,1109.6 610.4,1105.4 Z" fill="#bcbcbc" stroke="#1e1e1e" stroke-width="2.2"/>
<path d="M605.7,1095.7 Q603.6,1091.2 605.7,1085.2 L607.5,1080.1 Q609.6,1074.1 632.0,1061.4 L651.2,1050.5 Q673.7,1037.8 680.4,1037.8 L686.2,1037.8 Q692.9,1037.8 704.5,1045.6 L714.4,1052.4 Q726.0,1060.2 727.3,1066.6 L728.4,1072.0 Q729.7,1078.4 707.1,1092.7 L687.7,1105.0 Q665.1,1119.4 657.6,1120.0 L651.2,1120.5 Q643.8,1121.1 631.8,1115.1 L621.5,1110.0 Q609.6,1104.0 607.5,1099.5 Z" fill="#d4d4d4" stroke="#1e1e1e" stroke-width="2.8"/>
<path d="M618.4,1094.3 Q617.7,1092.3 619.5,1087.3 L621.0,1083.0 Q622.8,1077.9 640.6,1069.1 L655.9,1061.6 Q673.7,1052.7 679.3,1052.6 L684.1,1052.5 Q689.7,1052.3 698.7,1057.1 L706.4,1061.2 Q715.3,1066.0 716.1,1069.7 L716.7,1072.9 Q717.5,1076.7 699.2,1087.9 L683.5,1097.5 Q665.1,1108.7 659.1,1109.2 L654.0,1109.6 Q648.0,1110.0 638.2,1105.8 L629.7,1102.2 Q619.8,1098.0 619.1,1096.0 Z" fill="url(#dots)" stroke="#1e1e1e" stroke-width="2"/>
<path d="M641.3,1105.8 Q638.4,1104.0 646.4,1100.0 L657.1,1094.7 Q665.1,1090.8 673.8,1090.1 L685.3,1089.3 Q694.0,1088.6 698.1,1089.7 L703.7,1091.2 Q707.9,1092.3 695.0,1097.2 L677.9,1103.8 Q665.1,1108.7 660.0,1109.1 L653.2,1109.6 Q648.0,1110.0 645.1,1108.2 Z" fill="#d0d0d0" stroke="#333" stroke-width="1.3"/><path d="M130,-1 L134,2 L139,5.5 L142,5 L146,-1 Z" fill="#2b2b2b"/><path d="M152,-1 L158,1.5 L160,-1Z" fill="#bbb"/>
</g>
</svg>
</body></html>
